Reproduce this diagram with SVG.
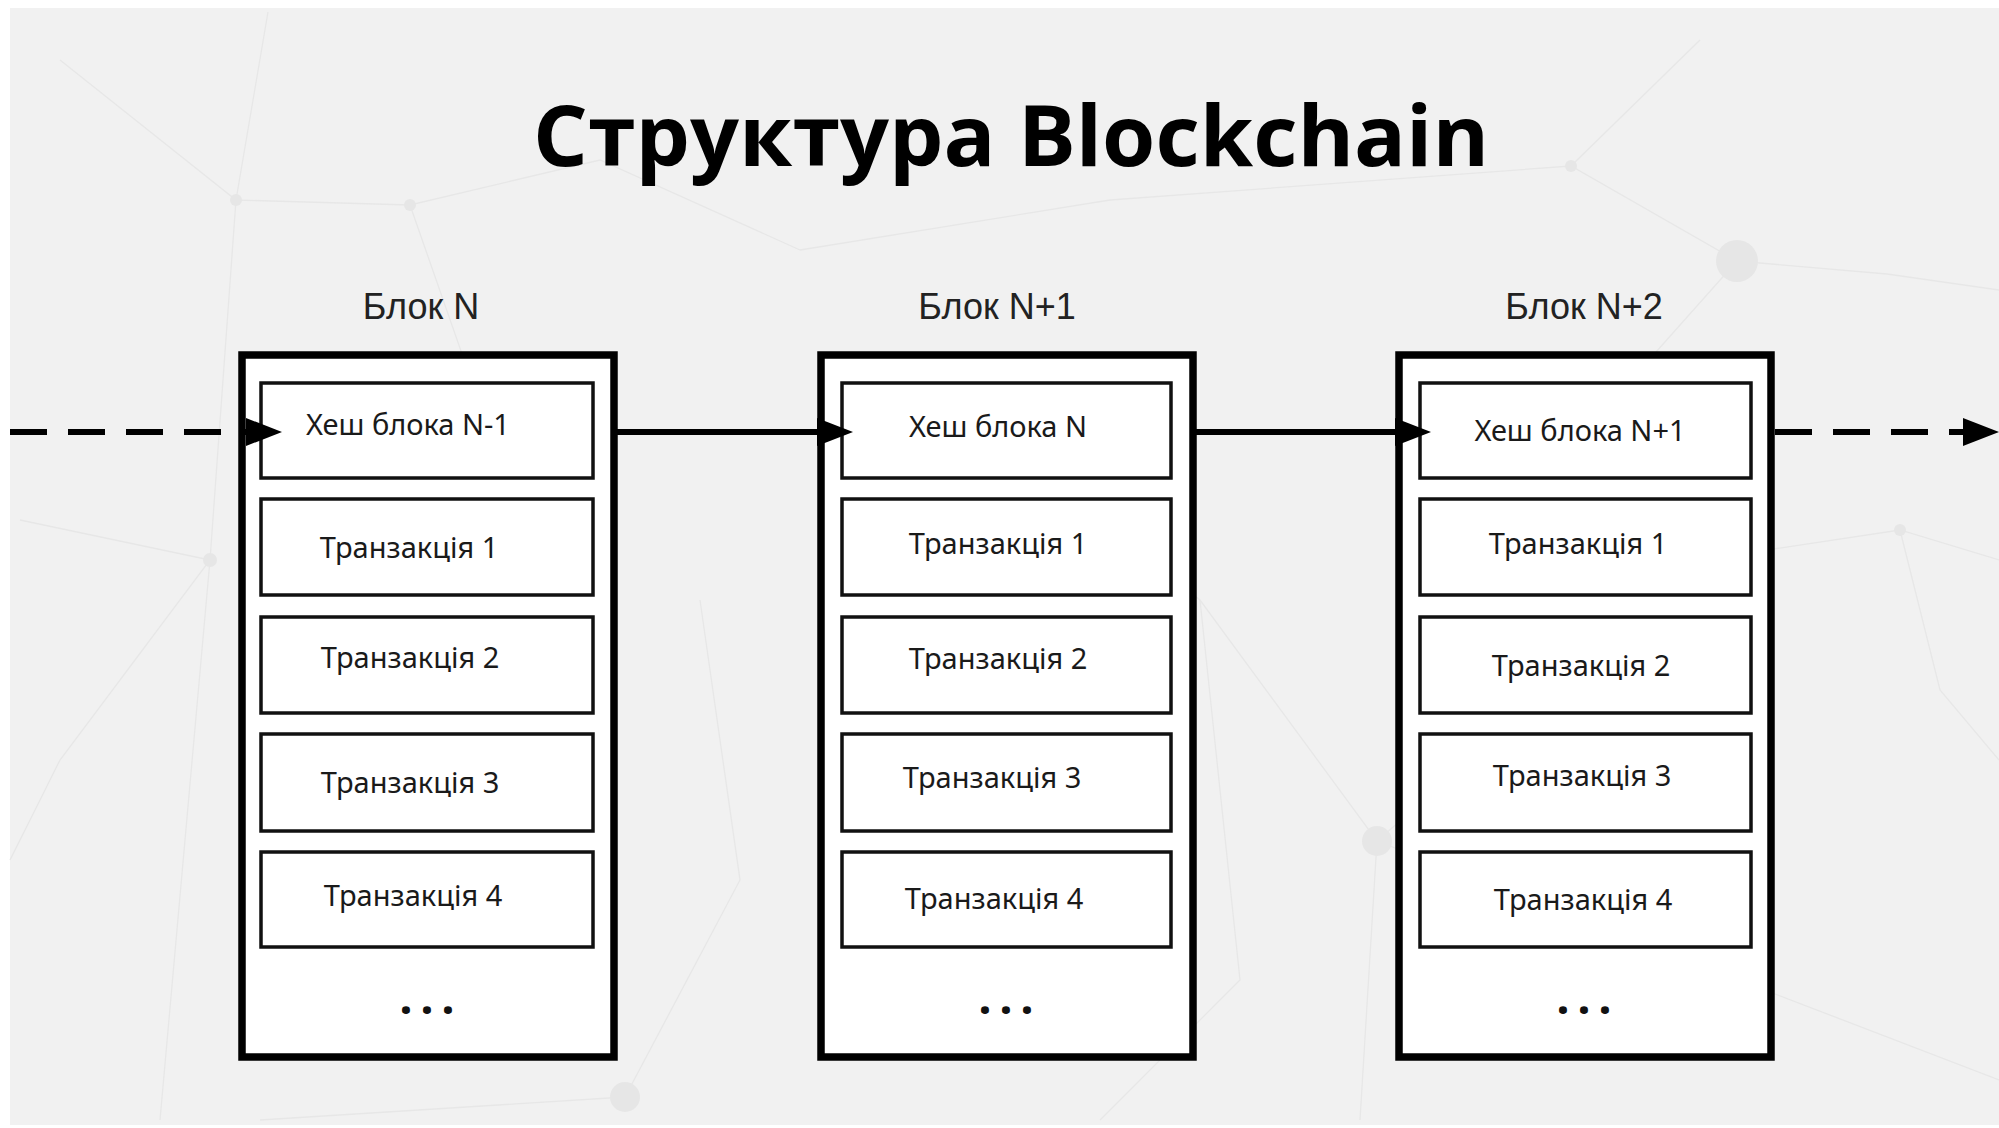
<svg xmlns="http://www.w3.org/2000/svg" width="1999" height="1128" viewBox="0 0 1999 1128">
  <style>
    .outer { fill: #ffffff; stroke: #000000; stroke-width: 7.5; }
    .cell { fill: #ffffff; stroke: #111111; stroke-width: 3.5; }
    .title { font-family: "Open Sans", "DejaVu Sans", sans-serif; font-weight: 700; font-size: 84px; fill: #000000; }
    .blabel { font-family: "Liberation Sans", Arial, sans-serif; font-size: 36px; fill: #222222; text-anchor: middle; }
    .ctext { font-family: "Noto Sans", "Open Sans", sans-serif; font-size: 29px; fill: #1a1a1a; text-anchor: middle; }
    .dots { font-family: "Noto Sans", sans-serif; font-weight: 700; font-size: 46px; fill: #111111; text-anchor: middle; letter-spacing: 8px; }
    .link { fill: none; stroke: #000000; stroke-width: 6; }
    .dash { stroke-dasharray: 37 21; }
    .bg-line { stroke: #e7e7e7; stroke-width: 1.3; fill: none; }
    .bg-node { fill: #e6e6e6; }
  </style>
  <defs>
    <marker id="ah" markerUnits="userSpaceOnUse" markerWidth="40" markerHeight="30" refX="16" refY="14" orient="auto">
      <path d="M0,0 L36,14 L0,28 z" fill="#000000"/>
    </marker>
  </defs>

  <!-- background -->
  <rect x="0" y="0" width="1999" height="1128" fill="#ffffff"/>
  <rect x="10" y="8" width="1989" height="1117" fill="#f1f1f1"/>
  <g id="background-network">
    <path class="bg-line" d="M268 12 L236 200 L210 560 L160 1120"/>
    <path class="bg-line" d="M60 60 L236 200 L410 205 L600 160 L800 250"/>
    <path class="bg-line" d="M410 205 L520 520 L380 620"/>
    <path class="bg-line" d="M800 250 L1110 200 L1571 166 L1737 261 L1887 274 L1999 290"/>
    <path class="bg-line" d="M1571 166 L1700 40"/>
    <path class="bg-line" d="M1737 261 L1640 370 L1700 560 L1900 530 L1999 560"/>
    <path class="bg-line" d="M1700 560 L1377 841 L1200 600 L1050 480"/>
    <path class="bg-line" d="M1377 841 L1360 1120"/>
    <path class="bg-line" d="M1377 841 L1999 1080"/>
    <path class="bg-line" d="M1900 530 L1940 690 L1999 760"/>
    <path class="bg-line" d="M625 1097 L740 880 L700 600"/>
    <path class="bg-line" d="M625 1097 L260 1120"/>
    <path class="bg-line" d="M20 520 L210 560 L60 760 L10 860"/>
    <path class="bg-line" d="M1200 600 L1240 980 L1100 1120"/>
    <circle class="bg-node" cx="1737" cy="261" r="21"/>
    <circle class="bg-node" cx="1377" cy="841" r="15"/>
    <circle class="bg-node" cx="625" cy="1097" r="15"/>
    <circle class="bg-node" cx="236" cy="200" r="6"/>
    <circle class="bg-node" cx="410" cy="205" r="6"/>
    <circle class="bg-node" cx="1571" cy="166" r="6"/>
    <circle class="bg-node" cx="210" cy="560" r="7"/>
    <circle class="bg-node" cx="1900" cy="530" r="6"/>
    <circle class="bg-node" cx="1700" cy="560" r="6"/>
  </g>

  <g id="title">
    <text class="title" x="533" y="166" textLength="956" lengthAdjust="spacingAndGlyphs">Структура Blockchain</text>
  </g>

  <g id="block-n">
    <text class="blabel" x="421" y="319">Блок N</text>
    <rect class="outer" x="242" y="355" width="372" height="702"/>
    <rect class="cell" x="261" y="383" width="332" height="95"/>
    <text class="ctext" x="408" y="435">Хеш блока N-1</text>
    <rect class="cell" x="261" y="499" width="332" height="96"/>
    <text class="ctext" x="409" y="558">Транзакція 1</text>
    <rect class="cell" x="261" y="617" width="332" height="96"/>
    <text class="ctext" x="410" y="668">Транзакція 2</text>
    <rect class="cell" x="261" y="734" width="332" height="97"/>
    <text class="ctext" x="410" y="793">Транзакція 3</text>
    <rect class="cell" x="261" y="852" width="332" height="95"/>
    <text class="ctext" x="413" y="906">Транзакція 4</text>
    <text class="dots" x="431" y="1014">...</text>
  </g>

  <g id="block-n1">
    <text class="blabel" x="997" y="319">Блок N+1</text>
    <rect class="outer" x="821" y="355" width="372" height="702"/>
    <rect class="cell" x="842" y="383" width="329" height="95"/>
    <text class="ctext" x="998" y="437">Хеш блока N</text>
    <rect class="cell" x="842" y="499" width="329" height="96"/>
    <text class="ctext" x="998" y="554">Транзакція 1</text>
    <rect class="cell" x="842" y="617" width="329" height="96"/>
    <text class="ctext" x="998" y="669">Транзакція 2</text>
    <rect class="cell" x="842" y="734" width="329" height="97"/>
    <text class="ctext" x="992" y="788">Транзакція 3</text>
    <rect class="cell" x="842" y="852" width="329" height="95"/>
    <text class="ctext" x="994" y="909">Транзакція 4</text>
    <text class="dots" x="1010" y="1014">...</text>
  </g>

  <g id="block-n2">
    <text class="blabel" x="1584" y="319">Блок N+2</text>
    <rect class="outer" x="1399" y="355" width="372" height="702"/>
    <rect class="cell" x="1420" y="383" width="331" height="95"/>
    <text class="ctext" x="1580" y="441">Хеш блока N+1</text>
    <rect class="cell" x="1420" y="499" width="331" height="96"/>
    <text class="ctext" x="1578" y="554">Транзакція 1</text>
    <rect class="cell" x="1420" y="617" width="331" height="96"/>
    <text class="ctext" x="1581" y="676">Транзакція 2</text>
    <rect class="cell" x="1420" y="734" width="331" height="97"/>
    <text class="ctext" x="1582" y="786">Транзакція 3</text>
    <rect class="cell" x="1420" y="852" width="331" height="95"/>
    <text class="ctext" x="1583" y="910">Транзакція 4</text>
    <text class="dots" x="1588" y="1014">...</text>
  </g>

  <g id="connectors">
    <line class="link dash" x1="10" y1="432" x2="262" y2="432" marker-end="url(#ah)"/>
    <line class="link" x1="614" y1="432" x2="833" y2="432" marker-end="url(#ah)"/>
    <line class="link" x1="1193" y1="432" x2="1411" y2="432" marker-end="url(#ah)"/>
    <line class="link dash" x1="1775" y1="432" x2="1979" y2="432" marker-end="url(#ah)"/>
  </g>
</svg>
